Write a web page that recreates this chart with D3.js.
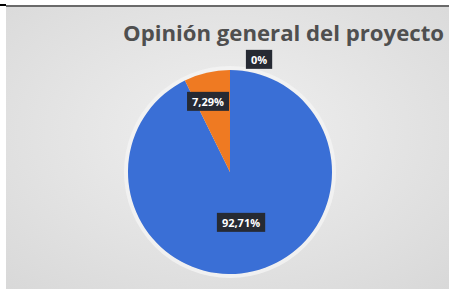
<!DOCTYPE html>
<html>
<head>
<meta charset="utf-8">
<script src="https://cdn.jsdelivr.net/npm/d3@7"></script>
<style>
  body { margin: 0; background: #fff; }
  svg { display: block; }
</style>
</head>
<body>
<div id="chart"></div>
<script>
// Data (Excel pie starts at 12 o'clock, clockwise)
const categories = ["Nada", "Bueno", "Regular"];
const values = [0, 92.71, 7.29];
const labels = ["0%", "92,71%", "7,29%"];
const colors = ["#a5a5a5", "#3a6fd6", "#ef7a22"];

const width = 449, height = 294;

const svg = d3.select("#chart")
    .append("svg")
    .attr("width", width)
    .attr("height", height);

// Light gray gradient background of the chart area
const defs = svg.append("defs");
const grad = defs.append("radialGradient")
    .attr("id", "bg")
    .attr("cx", "50%").attr("cy", "45%").attr("r", "75%");
grad.append("stop").attr("offset", "0%").attr("stop-color", "#f0f0f0");
grad.append("stop").attr("offset", "100%").attr("stop-color", "#d8d8d8");

svg.append("rect")
    .attr("x", 6).attr("y", 5)
    .attr("width", width - 6).attr("height", 284)
    .attr("fill", "url(#bg)");

// dark top edge
svg.append("rect").attr("x", 6).attr("y", 5).attr("width", width - 6).attr("height", 2).attr("fill", "#6a6a6a");
svg.append("rect").attr("x", 0).attr("y", 4).attr("width", 6).attr("height", 2).attr("fill", "#000");

// Title
svg.append("text")
    .attr("x", 123)
    .attr("y", 41)
    .attr("textLength", 321)
    .attr("lengthAdjust", "spacingAndGlyphs")
    .style("font-family", "Open Sans, sans-serif")
    .style("font-weight", "bold")
    .style("font-size", "21px")
    .attr("fill", "#4f4f4f")
    .text("Opinión general del proyecto");

// Pie
const cx = 230, cy = 172, radius = 102;
const g = svg.append("g").attr("transform", `translate(${cx},${cy})`);

// soft light halo around the pie
g.append("circle")
    .attr("r", radius + 2)
    .attr("fill", "none")
    .attr("stroke", "#f4f4f4")
    .attr("stroke-width", 4)
    .attr("opacity", 0.8);

const pie = d3.pie().sort(null).value(d => d)(values);
const arc = d3.arc().innerRadius(0).outerRadius(radius);

g.selectAll("path")
    .data(pie)
    .enter()
    .append("path")
    .attr("d", arc)
    .attr("fill", (d, i) => colors[i]);

// Data labels (dark boxes, white bold text)
const labelPos = [
    [29, -112],   // 0%
    [11, 51],     // 92,71%
    [-22, -70]    // 7,29%
];

const lab = g.selectAll(".lab")
    .data(pie)
    .enter()
    .append("g")
    .attr("class", "lab")
    .attr("transform", (d, i) => `translate(${labelPos[i][0]},${labelPos[i][1]})`);

lab.append("text")
    .attr("text-anchor", "middle")
    .attr("dy", "0.35em")
    .style("font-family", "Open Sans, sans-serif")
    .style("font-weight", "bold")
    .style("font-size", "11px")
    .attr("fill", "#fff")
    .text((d, i) => labels[i])
    .each(function() {
        const b = this.getBBox();
        d3.select(this.parentNode).insert("rect", "text")
            .attr("x", b.x - 5).attr("y", b.y - 2)
            .attr("width", b.width + 10).attr("height", b.height + 4)
            .attr("fill", "#262a33");
    });
</script>
</body>
</html>
